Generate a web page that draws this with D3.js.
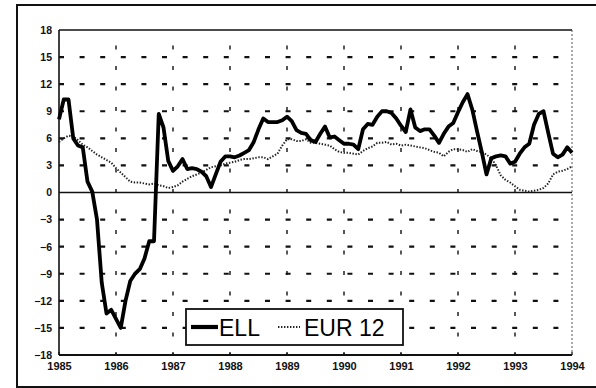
<!DOCTYPE html>
<html>
<head>
<meta charset="utf-8">
<script src="https://cdn.jsdelivr.net/npm/d3@7"></script>
<style>
  html, body { margin: 0; padding: 0; background: #fff; }
  svg { display: block; }
  .tick text { font-family: "Liberation Sans", Arial, sans-serif; font-weight: bold; fill: #111; }
</style>
</head>
<body>
<svg id="chart" width="596" height="388"></svg>
<script>
// Monthly inflation-style series, Jan 1985 .. Jan 1994 (109 months)
const startYear = 1985;
const yearTicks = [1985, 1986, 1987, 1988, 1989, 1990, 1991, 1992, 1993, 1994];
const valueTicks = [-18, -15, -12, -9, -6, -3, 0, 3, 6, 9, 12, 15, 18];

const ell = [
  8.1, 10.3, 10.3, 6.0, 5.2, 5.0, 1.2, 0.1, -3.0, -10.0, -13.4, -13.0,
  -14.0, -15.0, -12.0, -9.8, -9.0, -8.5, -7.3, -5.4, -5.4, 8.7, 7.2, 3.5,
  2.4, 2.9, 3.7, 2.6, 2.7, 2.6, 2.3, 1.8, 0.6, 2.0, 3.4, 4.0,
  4.0, 3.9, 4.1, 4.4, 4.7, 5.6, 7.0, 8.2, 7.8, 7.8, 7.8, 8.0,
  8.4, 7.9, 6.9, 6.6, 6.5, 5.8, 5.6, 6.5, 7.3, 6.1, 6.2, 5.8,
  5.4, 5.4, 5.3, 4.8, 7.0, 7.6, 7.5, 8.4, 9.0, 9.0, 8.8, 8.2,
  7.4, 6.7, 9.2, 7.2, 6.8, 7.0, 7.0, 6.3, 5.5, 6.5, 7.3, 7.7,
  8.9, 10.0, 10.9, 9.2, 6.8, 4.5, 2.0, 3.8, 4.0, 4.1, 4.0, 3.2,
  3.4, 4.3, 5.0, 5.4, 7.5, 8.7, 9.0, 6.6, 4.3, 3.9, 4.2, 5.0,
  4.4
];

const eur12 = [
  5.6, 6.0, 6.3, 6.2, 5.8, 5.3, 5.0, 4.6, 4.2, 3.9, 3.6, 3.3,
  2.7, 2.2, 1.7, 1.2, 1.1, 1.1, 1.0, 0.9, 1.0, 0.8, 0.7, 0.5,
  0.6, 0.8, 1.2, 1.5, 1.8, 2.0, 2.2, 2.5, 2.8, 2.9, 3.0, 3.2,
  3.3, 3.4, 3.6, 3.7, 3.7, 3.8, 3.9, 3.9, 3.7, 4.0, 4.3, 5.2,
  5.9, 5.9, 5.7, 5.7, 5.9, 5.5, 5.5, 5.4, 5.3, 5.2, 4.8, 4.5,
  4.4, 4.4, 4.3, 4.2, 4.6, 4.9, 5.1, 5.5, 5.5, 5.6, 5.3, 5.4,
  5.2, 5.3, 5.2, 5.1, 5.0, 4.9, 4.7, 4.5, 4.4, 4.0, 4.5, 4.8,
  4.8, 4.7, 4.5, 4.8, 4.6, 4.5, 4.2, 3.8, 3.0, 1.9, 1.4, 1.1,
  0.7, 0.3, 0.2, 0.1, 0.2, 0.3, 0.5, 1.0, 2.0, 2.3, 2.4, 2.6,
  2.9
];

const seriesNames = ["ELL", "EUR 12"];

const svg = d3.select("#chart");
const plot = { left: 59, top: 30, right: 572, bottom: 355 };

const x = d3.scaleLinear().domain([1985, 1994]).range([plot.left, plot.right]);
const y = d3.scaleLinear().domain([-18, 18]).range([plot.bottom, plot.top]);
const monthX = i => x(startYear + i / 12);

// outer frame
svg.append("rect")
  .attr("x", 17).attr("y", 5)
  .attr("width", 600).attr("height", 382)
  .attr("fill", "none").attr("stroke", "#111").attr("stroke-width", 2);

// dashed horizontal grid
svg.append("g").selectAll("line")
  .data(valueTicks.filter(v => v !== 0 && Math.abs(v) !== 18))
  .join("line")
  .attr("x1", plot.left).attr("x2", plot.right)
  .attr("y1", d => y(d)).attr("y2", d => y(d))
  .attr("stroke", "#111").attr("stroke-width", 2.2)
  .attr("stroke-dasharray", "5,15.6");

// dashed vertical grid
svg.append("g").selectAll("line")
  .data(yearTicks.slice(1, -1))
  .join("line")
  .attr("x1", d => x(d)).attr("x2", d => x(d))
  .attr("y1", plot.top).attr("y2", plot.bottom)
  .attr("stroke", "#111").attr("stroke-width", 1.4)
  .attr("stroke-dasharray", "4,16.5")
  .attr("stroke-dashoffset", 5);

// plot borders
svg.append("line").attr("x1", plot.left).attr("x2", plot.right)
  .attr("y1", plot.top).attr("y2", plot.top)
  .attr("stroke", "#111").attr("stroke-width", 1.6);
svg.append("line").attr("x1", plot.left).attr("x2", plot.right)
  .attr("y1", plot.bottom).attr("y2", plot.bottom)
  .attr("stroke", "#111").attr("stroke-width", 1.8);
svg.append("line").attr("x1", plot.left).attr("x2", plot.left)
  .attr("y1", plot.top).attr("y2", plot.bottom)
  .attr("stroke", "#111").attr("stroke-width", 1.6);
svg.append("line").attr("x1", plot.right).attr("x2", plot.right)
  .attr("y1", plot.top).attr("y2", plot.bottom)
  .attr("stroke", "#555").attr("stroke-width", 1)
  .attr("stroke-dasharray", "2,2");

// zero line
svg.append("line").attr("x1", plot.left).attr("x2", plot.right)
  .attr("y1", y(0)).attr("y2", y(0))
  .attr("stroke", "#111").attr("stroke-width", 1.6);

// small year ticks on the bottom edge
svg.append("g").selectAll("line")
  .data(yearTicks)
  .join("line")
  .attr("x1", d => x(d)).attr("x2", d => x(d))
  .attr("y1", plot.bottom - 3).attr("y2", plot.bottom)
  .attr("stroke", "#111").attr("stroke-width", 1.3);

// axes labels
const yAxis = svg.append("g")
  .attr("transform", `translate(${plot.left},0)`)
  .call(d3.axisLeft(y).tickValues(valueTicks).tickSize(0).tickPadding(7));
yAxis.select(".domain").remove();
yAxis.selectAll("text").style("font-size", "10.5px");

const xAxis = svg.append("g")
  .attr("transform", `translate(0,${plot.bottom})`)
  .call(d3.axisBottom(x).tickValues(yearTicks).tickFormat(d3.format("d")).tickSize(0));
xAxis.select(".domain").remove();
xAxis.selectAll("text").attr("y", 15).attr("dy", 0).style("font-size", "11px");

// series lines
const line = d3.line()
  .x((d, i) => monthX(i))
  .y(d => y(d));

svg.append("path")
  .datum(eur12)
  .attr("d", line)
  .attr("fill", "none")
  .attr("stroke", "#222")
  .attr("stroke-width", 2)
  .attr("stroke-dasharray", "1.4,1.6");

svg.append("path")
  .datum(ell)
  .attr("d", line)
  .attr("fill", "none")
  .attr("stroke", "#000")
  .attr("stroke-width", 3.8)
  .attr("stroke-linejoin", "round");

// legend
const legend = svg.append("g");
legend.append("rect")
  .attr("x", 186).attr("y", 309).attr("width", 217).attr("height", 36)
  .attr("fill", "#fff").attr("stroke", "#111").attr("stroke-width", 1.8);
legend.append("line")
  .attr("x1", 191).attr("x2", 218).attr("y1", 327).attr("y2", 327)
  .attr("stroke", "#000").attr("stroke-width", 4.2);
legend.append("text")
  .attr("x", 219).attr("y", 336)
  .style("font-family", "'Liberation Sans', Arial, sans-serif")
  .style("font-size", "23px").attr("fill", "#000")
  .text(seriesNames[0]);
legend.append("line")
  .attr("x1", 278).attr("x2", 300).attr("y1", 327).attr("y2", 327)
  .attr("stroke", "#222").attr("stroke-width", 2)
  .attr("stroke-dasharray", "1.4,1.6");
legend.append("text")
  .attr("x", 304).attr("y", 336)
  .style("font-family", "'Liberation Sans', Arial, sans-serif")
  .style("font-size", "23px").attr("fill", "#000")
  .text(seriesNames[1]);
</script>
</body>
</html>
